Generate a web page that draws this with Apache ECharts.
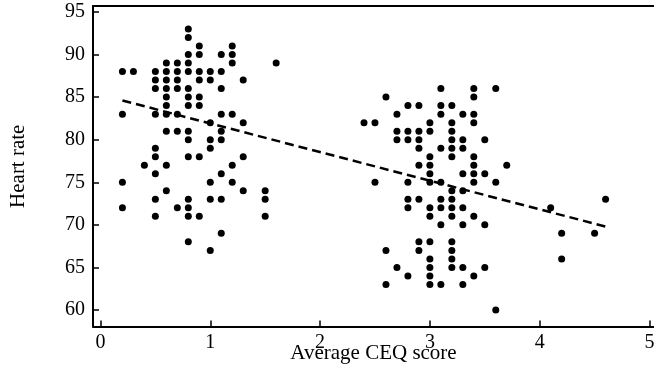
<!DOCTYPE html>
<html>
<head>
<meta charset="utf-8">
<script src="https://cdn.jsdelivr.net/npm/echarts@6/dist/echarts.min.js"></script>
<style>
html,body{margin:0;padding:0;background:#fff;}
#chart{width:654px;height:370px;}
</style>
</head>
<body>
<div id="chart"></div>
<script>
// Heart-rate rows (bpm) and the CEQ scores of the dots on each row
const heartRateRows = [93, 92, 91, 90, 89, 88, 87, 86, 85, 84, 83, 82, 81, 80, 79, 78, 77, 76, 75, 74, 73, 72, 71, 70, 69, 68, 67, 66, 65, 64, 63, 60];
const ceqScoresByRow = [
  [0.8],
  [0.8],
  [0.9, 1.2],
  [0.8, 0.9, 1.1, 1.2],
  [0.6, 0.7, 0.8, 1.2, 1.6],
  [0.2, 0.3, 0.5, 0.6, 0.7, 0.8, 0.9, 1.0, 1.1],
  [0.5, 0.6, 0.7, 0.9, 1.0, 1.3],
  [0.5, 0.6, 0.7, 0.8, 1.1, 3.1, 3.4, 3.6],
  [0.6, 0.8, 0.9, 2.6, 3.4],
  [0.6, 0.8, 0.9, 2.8, 2.9, 3.1, 3.2],
  [0.2, 0.5, 0.6, 0.7, 1.1, 1.2, 2.7, 3.1, 3.3, 3.4],
  [1.0, 1.3, 2.4, 2.5, 3.0, 3.2, 3.4],
  [0.6, 0.7, 0.8, 1.1, 2.7, 2.8, 2.9, 3.0, 3.2],
  [0.8, 1.0, 1.1, 2.7, 2.8, 2.9, 3.2, 3.3, 3.5],
  [0.5, 1.0, 2.9, 3.1, 3.2, 3.3],
  [0.5, 0.8, 0.9, 1.3, 3.0, 3.2, 3.4],
  [0.4, 0.6, 1.2, 2.9, 3.0, 3.4, 3.7],
  [0.5, 1.1, 3.0, 3.3, 3.4, 3.5],
  [0.2, 1.0, 1.2, 2.5, 2.8, 3.0, 3.1, 3.4, 3.6],
  [0.6, 1.3, 1.5, 3.2, 3.3],
  [0.5, 0.8, 1.0, 1.1, 1.5, 2.8, 2.9, 3.1, 3.2, 4.6],
  [0.2, 0.7, 0.8, 2.8, 3.0, 3.1, 3.2, 3.3, 4.1],
  [0.5, 0.8, 0.9, 1.5, 3.0, 3.2, 3.4],
  [3.1, 3.3, 3.5],
  [1.1, 4.2, 4.5],
  [0.8, 2.9, 3.0, 3.2],
  [1.0, 2.6, 2.9, 3.2],
  [3.0, 3.2, 4.2],
  [2.7, 3.0, 3.2, 3.3, 3.5],
  [2.8, 3.0, 3.4],
  [2.6, 3.0, 3.1, 3.3],
  [3.6]
];
// Fitted trend line end points
const trendCeq = [0.2, 4.6];
const trendHeartRate = [84.6, 69.8];
// Tick labels
const xTicks = [0, 1, 2, 3, 4, 5];
const yTicks = [60, 65, 70, 75, 80, 85, 90, 95];

const points = [];
heartRateRows.forEach((hr, i) => {
  ceqScoresByRow[i].forEach(x => points.push([x, hr]));
});
const trend = trendCeq.map((x, i) => [x, trendHeartRate[i]]);

const FONT = 'Liberation Serif';
const chart = echarts.init(document.getElementById('chart'), null, {renderer: 'canvas'});
chart.setOption({
  animation: false,
  backgroundColor: '#fff',
  grid: {left: 93, right: 0, top: 6, bottom: 43.5, containLabel: false, outerBoundsMode: 'none'},
  xAxis: [{
    type: 'value',
    min: -0.068,
    max: 5.041,
    name: 'Average CEQ score',
    nameLocation: 'middle',
    nameGap: 16,
    nameMoveOverlap: false,
    nameTextStyle: {fontFamily: FONT, fontSize: 21, color: '#000'},
    axisLine: {show: true, onZero: false, lineStyle: {color: '#000', width: 2}},
    axisTick: {show: true, inside: true, length: 6, lineStyle: {color: '#000', width: 1.5}, customValues: xTicks},
    axisLabel: {fontFamily: FONT, fontSize: 20, color: '#000', margin: 6, customValues: xTicks},
    splitLine: {show: false}
  }, {
    type: 'value',
    position: 'top',
    min: -0.068,
    max: 5.041,
    axisLine: {show: true, onZero: false, lineStyle: {color: '#000', width: 2}},
    axisTick: {show: false},
    axisLabel: {show: false},
    splitLine: {show: false}
  }],
  yAxis: {
    type: 'value',
    min: 58.06,
    max: 95.70,
    name: 'Heart rate',
    nameLocation: 'middle',
    nameGap: 64,
    nameMoveOverlap: false,
    nameTextStyle: {fontFamily: FONT, fontSize: 21, color: '#000'},
    axisLine: {show: true, onZero: false, lineStyle: {color: '#000', width: 2}},
    axisTick: {show: true, inside: true, length: 6, lineStyle: {color: '#000', width: 1.5}, customValues: yTicks},
    axisLabel: {fontFamily: FONT, fontSize: 20, color: '#000', margin: 8, customValues: yTicks},
    splitLine: {show: false}
  },
  series: [{
    type: 'scatter',
    data: points,
    symbol: 'circle',
    symbolSize: 7,
    itemStyle: {color: '#000', opacity: 1},
    silent: true
  }, {
    type: 'line',
    data: trend,
    showSymbol: false,
    symbol: 'none',
    lineStyle: {color: '#000', width: 2.5, type: [9, 5], opacity: 1},
    silent: true,
    z: 3
  }]
});
</script>
</body>
</html>
